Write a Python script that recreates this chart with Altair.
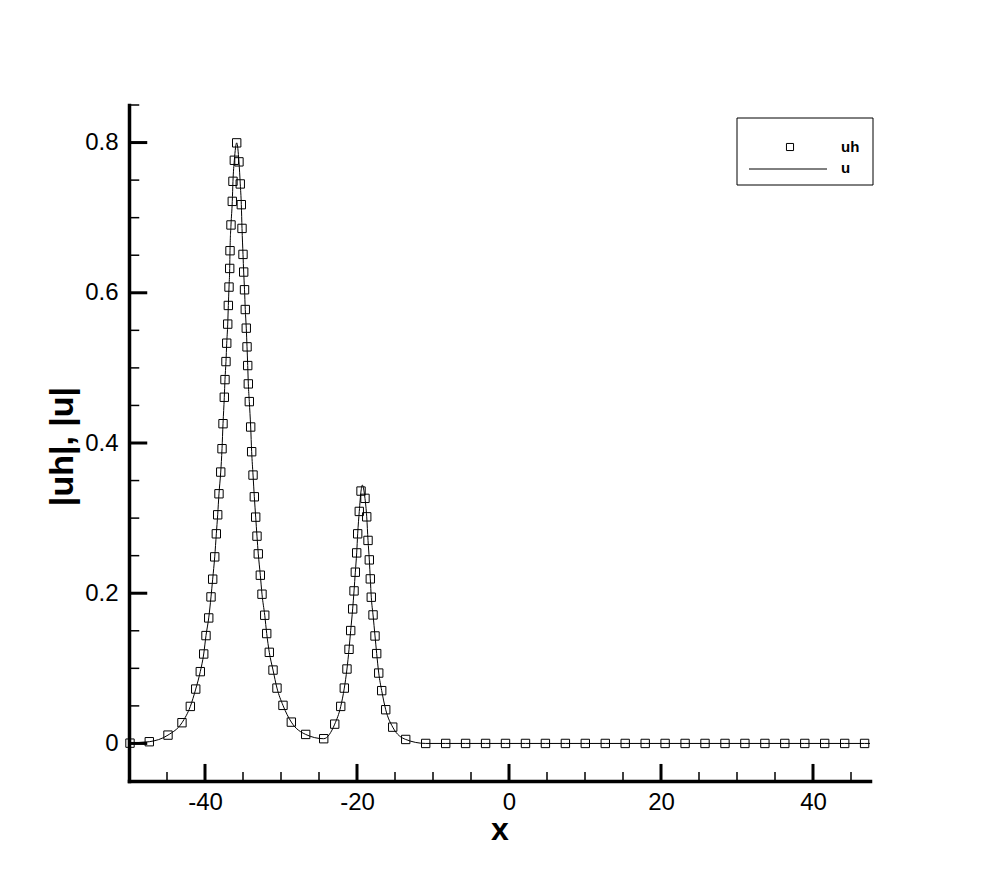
import altair as alt
import pandas as pd

# marker series "uh"
uh_x = [-49.87, -47.33, -44.87, -43.03, -41.93, -41.22, -40.62, -40.17, -39.87, -39.51,
        -39.21, -38.99, -38.72, -38.51, -38.33, -38.16, -37.93, -37.76, -37.63, -37.46,
        -37.37, -37.24, -37.14, -37.01, -36.93, -36.84, -36.75, -36.71, -36.58, -36.41,
        -36.32, -36.14, -35.83, -35.53, -35.36, -35.22, -35.13, -35.00, -34.91, -34.80,
        -34.70, -34.57, -34.47, -34.38, -34.30, -34.17, -33.99, -33.86, -33.68, -33.51,
        -33.33, -33.16, -32.99, -32.72, -32.50, -32.14, -31.88, -31.54, -31.05, -30.53,
        -29.74, -28.64, -26.75, -24.38, -22.93, -22.14, -21.67, -21.32, -21.05, -20.83,
        -20.57, -20.39, -20.22, -20.04, -19.91, -19.70, -19.47, -18.95, -18.72, -18.55,
        -18.38, -18.25, -18.12, -17.89, -17.63, -17.41, -17.14, -16.75, -16.22, -15.30,
        -13.59, -10.96, -8.33, -5.71, -3.08, -0.46, 2.17, 4.79, 7.42, 10.04,
        12.67, 15.29, 17.92, 20.54, 23.17, 25.79, 28.42, 31.04, 33.67, 36.29,
        38.92, 41.54, 44.17, 46.79]
uh_y = [0.0004, 0.0023, 0.0111, 0.0276, 0.0493, 0.0724, 0.0956, 0.1191, 0.1436, 0.1671,
        0.1951, 0.2187, 0.2484, 0.2791, 0.3044, 0.3324, 0.3613, 0.3924, 0.4257, 0.4609,
        0.4844, 0.5084, 0.5329, 0.5583, 0.5831, 0.6076, 0.6324, 0.6560, 0.6903, 0.7217,
        0.7484, 0.7764, 0.7996, 0.7743, 0.7449, 0.7173, 0.6857, 0.6511, 0.6276, 0.6040,
        0.5777, 0.5529, 0.5280, 0.5031, 0.4787, 0.4551, 0.4213, 0.3884, 0.3573, 0.3284,
        0.3013, 0.2760, 0.2524, 0.2240, 0.1987, 0.1707, 0.1463, 0.1213, 0.0977, 0.0737,
        0.0507, 0.0284, 0.0120, 0.0063, 0.0257, 0.0493, 0.0737, 0.0991, 0.1253, 0.1503,
        0.1791, 0.2031, 0.2280, 0.2537, 0.2791, 0.3089, 0.3360, 0.3263, 0.3017, 0.2703,
        0.2444, 0.2191, 0.1947, 0.1711, 0.1431, 0.1196, 0.0937, 0.0703, 0.0449, 0.0217,
        0.0053, 0.0000, 0.0, 0.0, 0.0, 0.0, 0.0, 0.0, 0.0, 0.0,
        0.0, 0.0, 0.0, 0.0, 0.0, 0.0, 0.0, 0.0, 0.0, 0.0,
        0.0, 0.0, 0.0, 0.0]

# extra points of the exact curve "u" (ends and second apex)
u_extra_x = [-50.0, -19.30, 47.5]
u_extra_y = [0.0, 0.344, 0.0]

x_major = [-40, -20, 0, 20, 40]
x_minor = [-45, -35, -30, -25, -15, -10, -5, 5, 10, 15, 25, 30, 35, 45]
y_major = [0, 0.2, 0.4, 0.6, 0.8]
y_minor = [0.05, 0.1, 0.15, 0.25, 0.3, 0.35, 0.45, 0.5, 0.55, 0.65, 0.7, 0.75, 0.85]

legend_labels = ["uh", "u"]

X_DOM = [-50, 47.5]
Y_DOM = [-0.05, 0.85]
W, H = 741, 676
FONT = "Liberation Sans"

uh_df = pd.DataFrame({"x": uh_x, "y": uh_y})
u_df = pd.DataFrame({"x": uh_x + u_extra_x, "y": uh_y + u_extra_y}).sort_values("x")

xs = alt.Scale(domain=X_DOM, nice=False, zero=False)
ys = alt.Scale(domain=Y_DOM, nice=False, zero=False)

x_axis = alt.Axis(values=x_major, labelExpr="'' + datum.value", ticks=False, grid=False,
                  domainColor="black", domainWidth=3.5, domainCap="square",
                  labelFont=FONT, labelFontSize=24, labelColor="black", labelPadding=9,
                  title="x", titleFont=FONT, titleFontSize=32, titleFontWeight="bold",
                  titleColor="black", titleY=58, titleBaseline="alphabetic")
y_axis = alt.Axis(values=y_major, labelExpr="'' + datum.value", ticks=False, grid=False,
                  domainColor="black", domainWidth=3.5, domainCap="square",
                  labelFont=FONT, labelFontSize=24, labelColor="black", labelPadding=11,
                  title="|uh|, |u|", titleFont=FONT, titleFontSize=34, titleFontWeight="bold",
                  titleColor="black", titleAngle=270, titleX=-67, titleY=341,
                  titleAlign="center", titleBaseline="middle")

line = alt.Chart(u_df).mark_line(color="black", strokeWidth=1, interpolate="monotone").encode(
    x=alt.X("x:Q", scale=xs, axis=x_axis),
    y=alt.Y("y:Q", scale=ys, axis=y_axis),
    order="x:Q",
)

pts = alt.Chart(uh_df).mark_point(shape="square", filled=False, color="black",
                                   strokeWidth=1, size=70, opacity=1).encode(
    x=alt.X("x:Q", scale=xs), y=alt.Y("y:Q", scale=ys)
)

tick_len_x_major = 0.0227
tick_len_x_minor = 0.012
tick_len_y_major = 2.4
tick_len_y_minor = 1.35

xmaj = alt.Chart(pd.DataFrame({"v": x_major})).mark_rule(color="black", strokeWidth=3).encode(
    x=alt.X("v:Q", scale=xs), y=alt.datum(Y_DOM[0]), y2=alt.datum(Y_DOM[0] + tick_len_x_major))
xmin = alt.Chart(pd.DataFrame({"v": x_minor})).mark_rule(color="black", strokeWidth=1.5).encode(
    x=alt.X("v:Q", scale=xs), y=alt.datum(Y_DOM[0]), y2=alt.datum(Y_DOM[0] + tick_len_x_minor))
ymaj = alt.Chart(pd.DataFrame({"v": y_major})).mark_rule(color="black", strokeWidth=3).encode(
    y=alt.Y("v:Q", scale=ys), x=alt.datum(X_DOM[0]), x2=alt.datum(X_DOM[0] + tick_len_y_major))
ymin = alt.Chart(pd.DataFrame({"v": y_minor})).mark_rule(color="black", strokeWidth=1.5).encode(
    y=alt.Y("v:Q", scale=ys), x=alt.datum(X_DOM[0]), x2=alt.datum(X_DOM[0] + tick_len_y_minor))

one = pd.DataFrame({"a": [0]})
leg_box = alt.Chart(one).mark_rect(fill="white", stroke="black", strokeWidth=1).encode(
    x=alt.value(608), x2=alt.value(744), y=alt.value(13), y2=alt.value(80))
leg_pt = alt.Chart(one).mark_point(shape="square", filled=False, color="black",
                                   strokeWidth=1, size=50, opacity=1).encode(
    x=alt.value(661), y=alt.value(42))
leg_line = alt.Chart(one).mark_rule(color="black", strokeWidth=1).encode(
    x=alt.value(620), x2=alt.value(698), y=alt.value(64))
leg_t1 = alt.Chart(one).mark_text(text=legend_labels[0], font=FONT, fontSize=15, fontWeight="bold",
                                  align="left", baseline="middle", color="black").encode(
    x=alt.value(712), y=alt.value(42))
leg_t2 = alt.Chart(one).mark_text(text=legend_labels[1], font=FONT, fontSize=15, fontWeight="bold",
                                  align="left", baseline="middle", color="black").encode(
    x=alt.value(712), y=alt.value(63))

chart = alt.layer(line, pts, xmaj, xmin, ymaj, ymin, leg_box, leg_pt, leg_line, leg_t1, leg_t2).properties(
    width=W, height=H, autosize="none",
    padding={"left": 121, "top": 97, "right": 100, "bottom": 80},
    background="white",
).configure_view(stroke=None)

chart.save("out.html", embed_options={"renderer": "svg", "actions": False})
